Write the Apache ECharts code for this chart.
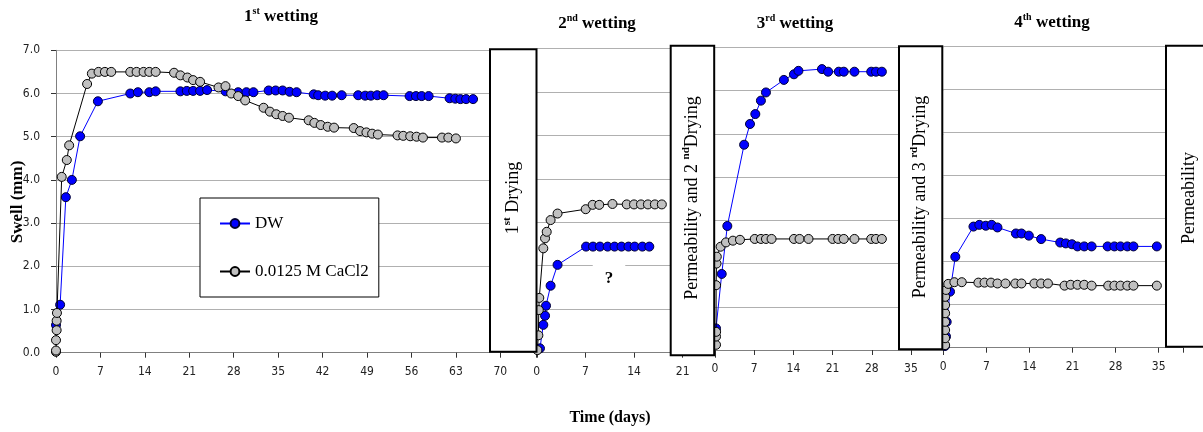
<!DOCTYPE html>
<html>
<head>
<meta charset="utf-8">
<script src="https://cdn.jsdelivr.net/npm/echarts@6/dist/echarts.min.js"></script>
<style>
html,body{margin:0;padding:0;background:#fff;}
#chart{width:1203px;height:432px;}
</style>
</head>
<body>
<div id="chart"></div>
<script>
// ---- data: [day, swell mm] per wetting stage ----
const dw1 = [[0,0.64],[0.65,1.11],[1.55,3.6],[2.5,4.0],[3.8,5.01],[6.6,5.82],[11.7,6.0],[12.9,6.03],[14.7,6.03],[15.7,6.05],[19.6,6.05],[20.6,6.06],[21.6,6.06],[22.7,6.06],[23.8,6.08],[26.7,6.05],[28.7,6.03],[30,6.03],[31.1,6.03],[33.5,6.07],[34.6,6.07],[35.7,6.07],[36.8,6.04],[37.9,6.03],[40.6,5.98],[41.3,5.96],[42.4,5.95],[43.5,5.95],[45,5.96],[47.6,5.96],[48.7,5.95],[49.6,5.95],[50.6,5.96],[51.6,5.96],[55.7,5.94],[56.7,5.94],[57.6,5.94],[58.7,5.94],[62,5.89],[62.9,5.88],[63.7,5.87],[64.6,5.87],[65.7,5.87]];
const ca1 = [[0,0.02],[0,0.05],[0,0.29],[0.1,0.52],[0.1,0.74],[0.15,0.92],[0.9,4.07],[1.7,4.46],[2.07,4.8],[4.9,6.22],[5.65,6.46],[6.7,6.5],[7.7,6.5],[8.7,6.5],[11.7,6.5],[12.7,6.5],[13.8,6.5],[14.7,6.5],[15.7,6.5],[18.6,6.48],[19.6,6.42],[20.7,6.37],[21.6,6.31],[22.7,6.27],[25.6,6.14],[26.7,6.17],[27.6,6.0],[28.7,5.94],[29.8,5.84],[32.7,5.67],[33.7,5.58],[34.7,5.52],[35.7,5.48],[36.7,5.44],[39.8,5.38],[40.7,5.32],[41.7,5.27],[42.8,5.23],[43.8,5.21],[46.9,5.2],[47.9,5.13],[48.9,5.1],[49.8,5.07],[50.7,5.05],[53.8,5.03],[54.7,5.02],[55.8,5.01],[56.8,5.0],[57.8,4.98],[60.8,4.98],[61.8,4.98],[63.0,4.96]];
const dw2 = [[0.47,0.1],[0.95,0.64],[1.2,0.85],[1.34,1.08],[2.0,1.54],[3.0,2.02],[7.1,2.44],[8.1,2.44],[9.1,2.44],[10.2,2.44],[11.2,2.44],[12.2,2.44],[13.2,2.44],[14.1,2.44],[15.2,2.44],[16.2,2.44]];
const ca2 = [[0.1,0.06],[0.24,0.4],[0.3,0.98],[0.37,1.26],[0.95,2.4],[1.2,2.63],[1.44,2.78],[2.0,3.05],[3.0,3.2],[7.05,3.3],[8.05,3.4],[9.0,3.4],[10.9,3.42],[12.95,3.41],[14.0,3.41],[15.0,3.41],[16.0,3.41],[17.0,3.41],[18.0,3.41]];
const dw3 = [[0.18,0.5],[1.2,1.76],[2.2,2.87],[5.2,4.75],[6.25,5.23],[7.2,5.46],[8.2,5.77],[9.1,5.96],[12.3,6.25],[14.1,6.38],[14.9,6.46],[19.1,6.5],[20.2,6.44],[22.1,6.44],[23.0,6.44],[24.9,6.44],[27.9,6.44],[28.75,6.44],[29.8,6.44]];
const ca3 = [[0.18,0.12],[0.18,0.31],[0.2,0.42],[0.2,1.5],[0.27,2.0],[0.32,2.16],[1.0,2.39],[1.96,2.49],[3.2,2.53],[4.46,2.55],[7.1,2.57],[8.2,2.57],[9.1,2.57],[10.1,2.57],[14.1,2.57],[15.1,2.57],[16.7,2.57],[21.0,2.57],[22.0,2.57],[23.0,2.57],[24.9,2.57],[27.9,2.57],[28.75,2.57],[29.8,2.57]];
const dw4 = [[0.28,0.04],[0.44,0.26],[0.55,0.6],[1.09,1.3],[1.95,2.11],[4.9,2.81],[5.85,2.85],[6.9,2.83],[7.86,2.85],[8.8,2.79],[11.8,2.65],[12.7,2.65],[13.9,2.6],[15.9,2.52],[19.0,2.44],[19.9,2.42],[20.9,2.4],[21.8,2.35],[22.9,2.35],[24.1,2.35],[26.7,2.35],[27.8,2.35],[28.8,2.35],[29.9,2.35],[30.9,2.35],[34.7,2.35]];
const ca4 = [[0.3,0.06],[0.3,0.22],[0.3,0.41],[0.3,0.6],[0.3,0.8],[0.3,0.99],[0.3,1.18],[0.44,1.34],[0.8,1.48],[1.8,1.52],[3.0,1.52],[5.7,1.51],[6.7,1.51],[7.75,1.51],[8.8,1.49],[10.1,1.49],[11.7,1.49],[12.7,1.49],[14.8,1.49],[15.9,1.49],[17.0,1.49],[19.7,1.44],[20.7,1.46],[21.8,1.46],[22.9,1.46],[24.1,1.44],[26.8,1.44],[27.8,1.44],[28.8,1.44],[29.9,1.44],[30.9,1.44],[34.7,1.44]];

const seriesNames = ['DW', '0.0125 M CaCl2'];
const stageTitles = [['1','st',' wetting'],['2','nd',' wetting'],['3','rd',' wetting'],['4','th',' wetting']];
const xLastLabel = [70, 21, 35, 35];   // last labelled day on each stage axis
const xMax = [75.77, 25.65, 40.77, 38.95];
const yMax = 7, yStep = 1, xStep = 7;

// ---- layout (pixels) ----
const grids = [
  {left:56, top:50.3, width:481, height:302.4},
  {left:536.7, top:48.3, width:178.3, height:304.4},
  {left:715, top:47.5, width:228.3, height:302.5},
  {left:943.3, top:46, width:239.7, height:301.7}
];
const SERIF = "'Liberation Serif','Times New Roman',serif";
const NARROW = "'Liberation Sans Narrow','Arial Narrow','DejaVu Sans Condensed',sans-serif";

const xAxes = grids.map((g,i)=>({
  type:'value', gridIndex:i, min:0, max:xMax[i], interval:xStep,
  axisLine:{show:true, lineStyle:{color:'#808080', width:1}},
  axisTick:{show:true, length:5, lineStyle:{color:'#333'}},
  axisLabel:{fontFamily:NARROW, fontSize:12, color:'#222', margin:13,
    formatter:v => (Math.abs(v/7 - Math.round(v/7))<1e-6 && v<=xLastLabel[i]+1e-6) ? String(Math.round(v)) : ''},
  splitLine:{show:false}
}));
const yAxes = grids.map((g,i)=>({
  type:'value', gridIndex:i, min:0, max:yMax, interval:yStep,
  axisLine:{show:i===0, lineStyle:{color:'#808080', width:1}},
  axisTick:{show:i===0, length:5, lineStyle:{color:'#333'}},
  axisLabel:{show:i===0, fontFamily:NARROW, fontSize:12, color:'#222', margin:16, formatter:v=>v.toFixed(1)},
  splitLine:{show:true, lineStyle:{color:'#b0b0b0', width:1}}
}));

const dwSets = [dw1, dw2, dw3, dw4];
const caSets = [ca1, ca2, ca3, ca4];
const series = [];
for (let i=0;i<4;i++){
  series.push({
    name:seriesNames[0], type:'line', xAxisIndex:i, yAxisIndex:i, data:dwSets[i],
    symbol:'circle', symbolSize:9, showAllSymbol:true,
    lineStyle:{color:'#0000ff', width:1},
    itemStyle:{color:'#0000ff', borderColor:'#000033', borderWidth:1}, z:3
  });
  series.push({
    name:seriesNames[1], type:'line', xAxisIndex:i, yAxisIndex:i, data:caSets[i],
    symbol:'circle', symbolSize:9, showAllSymbol:true,
    lineStyle:{color:'#000', width:1},
    itemStyle:{color:'#c0c0c0', borderColor:'#000', borderWidth:1}, z:4
  });
}

function supText(parts, fs, bold){
  return {
    text:'{n|'+parts[0]+'}{s|'+parts[1]+'}{n|'+parts[2]+'}',
    rich:{
      n:{fontSize:fs, fontWeight:bold?'bold':'normal', fontFamily:SERIF, fill:'#000', lineHeight:fs+5},
      s:{fontSize:Math.round(fs*0.6), fontWeight:'bold', fontFamily:SERIF, fill:'#000', verticalAlign:'top', lineHeight:Math.round(fs*0.6)+2}
    },
    align:'center', verticalAlign:'middle'
  };
}

const titlePos = [[281,17],[597,24],[795,24],[1052,23]];
const graphics = [];
stageTitles.forEach((t,i)=>{
  graphics.push({type:'text', x:titlePos[i][0], y:titlePos[i][1], z:100, style:supText(t,17,true)});
});
// boxes between stages
const boxes = [
  {x:490, y:49.3, w:46.5, h:302.4, text:['1','st',' Drying'], cx:513, cy:198},
  {x:670.7, y:45.7, w:43.5, h:309.5, text:['Permeability and 2 ','nd','Drying'], cx:692.5, cy:198},
  {x:899, y:46.2, w:43.3, h:303, text:['Permeability and 3 ','rd','Drying'], cx:920.5, cy:197},
  {x:1166, y:45.7, w:50, h:301, text:['Permeability','',''], cx:1189, cy:198}
];
boxes.forEach(b=>{
  graphics.push({type:'rect', z:100, shape:{x:b.x, y:b.y, width:b.w, height:b.h},
    style:{fill:'#fff', stroke:'#000', lineWidth:2}});
  graphics.push({type:'text', z:101, x:b.cx, y:b.cy, rotation:Math.PI/2, style:supText(b.text,18,false)});
});
// question mark annotation
graphics.push({type:'text', z:50, x:609, y:279, style:{text:'?', font:"bold 17px "+SERIF, fill:'#000',
  align:'center', verticalAlign:'middle', backgroundColor:'#fff', padding:[8,12,4,12]}});
// axis titles
graphics.push({type:'text', z:100, x:610, y:418, style:{text:'Time (days)', font:"bold 16px "+SERIF, fill:'#000', align:'center', verticalAlign:'middle'}});
graphics.push({type:'text', z:100, x:17.5, y:202, rotation:Math.PI/2, style:{text:'Swell (mm)', font:"bold 17px "+SERIF, fill:'#000', align:'center', verticalAlign:'middle'}});

const option = {
  animation:false,
  backgroundColor:'#fff',
  grid:grids,
  xAxis:xAxes,
  yAxis:yAxes,
  legend:{
    data:seriesNames, orient:'vertical', left:200, top:198,
    backgroundColor:'#fff', borderColor:'#000', borderWidth:1,
    padding:[17,10,17,19], itemGap:31, itemWidth:30, itemHeight:11,
    textStyle:{fontFamily:SERIF, fontSize:17, color:'#000'}, z:20
  },
  series:series,
  graphic:graphics
};
const chart = echarts.init(document.getElementById('chart'), null, {renderer:'canvas'});
chart.setOption(option);
</script>
</body>
</html>
